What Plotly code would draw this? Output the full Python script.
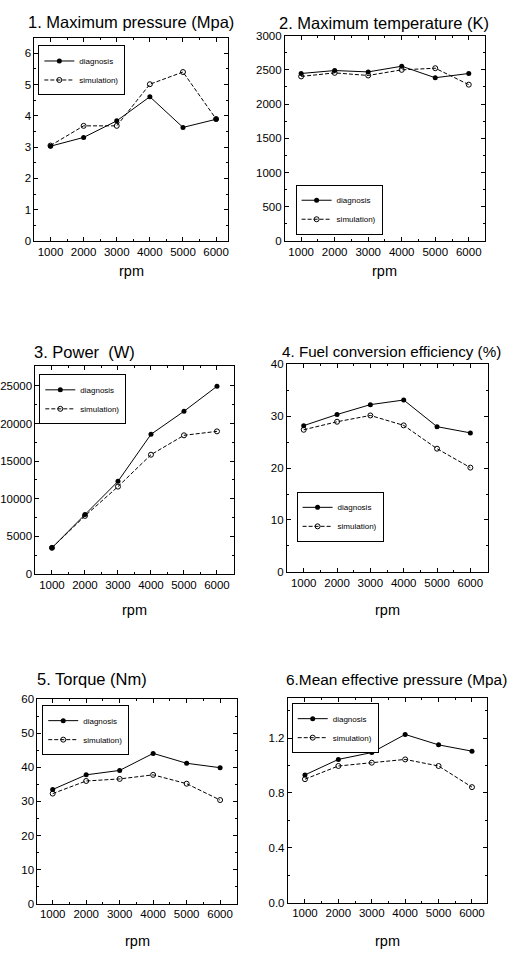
import plotly.graph_objects as go

W, H = 510, 959

rpm = [1000, 2000, 3000, 4000, 5000, 6000]
p_diag = [3.03, 3.31, 3.84, 4.61, 3.63, 3.89]
p_sim = [3.05, 3.68, 3.68, 5.01, 5.40, 3.90]
t_diag = [2447, 2490, 2470, 2553, 2385, 2447]
t_sim = [2404, 2456, 2418, 2500, 2524, 2284]
pow_diag = [3459, 7881, 12303, 18564, 21629, 24956]
pow_sim = [3459, 7706, 11602, 15849, 18433, 18958]
eff_diag = [28.2, 30.35, 32.25, 33.14, 28.0, 26.8]
eff_sim = [27.4, 28.95, 30.16, 28.25, 23.75, 20.1]
tq_diag = [33.5, 37.8, 39.1, 44.1, 41.2, 39.9]
tq_sim = [32.3, 36.0, 36.6, 37.8, 35.2, 30.4]
mep_diag = [0.931, 1.044, 1.094, 1.226, 1.150, 1.104]
mep_sim = [0.90, 0.996, 1.02, 1.044, 0.996, 0.842]

titles = ["1. Maximum pressure (Mpa)", "2. Maximum temperature (K)", "3. Power  (W)",
          "4. Fuel conversion efficiency (%)", "5. Torque (Nm)", "6.Mean effective pressure (Mpa)"]
series = [(p_diag, p_sim), (t_diag, t_sim), (pow_diag, pow_sim),
          (eff_diag, eff_sim), (tq_diag, tq_sim), (mep_diag, mep_sim)]
names = ["diagnosis", "simulation)"]

# panel frames in pixels: left, right, top, bottom
frames = [(22, 221, 32, 238), (279, 484, 30, 238), (23, 227, 365, 575),
          (281, 487, 363, 573), (25, 230, 702, 909), (282, 486, 701, 908)]
xranges = [[515, 6370], [515, 6474], [499, 6522], [494, 6517], [542, 6508], [487, 6438]]
yranges = [[0, 6.5], [0, 3000], [0, 27600], [0, 40], [0, 60], [0, 1.49]]
ydticks = [1, 500, 5000, 10, 10, 0.4]
yminor = [0.5, 250, 2500, 5, 5, 0.2]
yfmt = ["d", "d", "d", "d", "d", ".1f"]
# title (x px, y px) and size
title_pos = [(121, 16), (381, 17), (20, 350), (274, 350), (23, 682), (278, 682)]
title_anchor = ["center", "center", "left", "left", "left", "left"]
title_size = [16.5, 16.5, 16.5, 15.2, 16.5, 15.4]
# legend top-left px
leg_pos = [(26, 40), (290, 181), (27, 373), (291, 492), (30, 708), (286, 706)]
# rpm label y px
rpm_y = [268, 268, 612, 612, 947, 947]

fig = go.Figure()
font = "Liberation Sans, Arial, sans-serif"

for i in range(6):
    ax = "" if i == 0 else str(i + 1)
    l, r, t, b = frames[i]
    leg = "legend" if i == 0 else f"legend{i+1}"
    d, s = series[i]
    fig.add_trace(go.Scatter(x=rpm, y=d, name=names[0], mode="lines+markers",
                             line=dict(color="black", width=1),
                             marker=dict(symbol="circle", size=5, color="black"),
                             xaxis="x" + ax, yaxis="y" + ax, legend=leg))
    fig.add_trace(go.Scatter(x=rpm, y=s, name=names[1], mode="lines+markers",
                             line=dict(color="black", width=1, dash="4px,2px"),
                             marker=dict(symbol="circle-open", size=5, color="black",
                                         line=dict(width=1, color="black")),
                             xaxis="x" + ax, yaxis="y" + ax, legend=leg))
    common = dict(showline=True, linecolor="black", linewidth=1, mirror="ticks",
                  ticks="inside", ticklen=4, tickcolor="black", showgrid=False,
                  zeroline=False, tickfont=dict(family=font, size=11.5, color="black"))
    fig.layout["xaxis" + ax] = dict(domain=[l / W, r / W], range=xranges[i],
                                    anchor="y" + ax, tickvals=rpm,
                                    minor=dict(ticks="inside", ticklen=2, dtick=500,
                                               tick0=0, tickcolor="black"),
                                    **common)
    fig.layout["yaxis" + ax] = dict(domain=[1 - b / H, 1 - t / H], range=yranges[i],
                                    anchor="x" + ax, dtick=ydticks[i], tick0=0,
                                    tickformat=yfmt[i],
                                    minor=dict(ticks="inside", ticklen=2, dtick=yminor[i],
                                               tick0=0, tickcolor="black"),
                                    **common)
    lx, ly = leg_pos[i]
    fig.layout[leg] = dict(x=lx / W, y=1 - ly / H, xanchor="left", yanchor="top",
                           bordercolor="black", borderwidth=1, bgcolor="white",
                           font=dict(family=font, size=8, color="black"),
                           itemwidth=30, tracegroupgap=0)
    tx, ty = title_pos[i]
    fig.add_annotation(text=titles[i], x=tx / W, y=1 - ty / H, xref="paper", yref="paper",
                       xanchor=title_anchor[i], yanchor="middle", showarrow=False,
                       font=dict(family=font, size=title_size[i], color="black"))
    fig.add_annotation(text="rpm", x=(l + r) / 2 / W, y=1 - rpm_y[i] / H,
                       xref="paper", yref="paper", xanchor="center", yanchor="middle",
                       showarrow=False, font=dict(family=font, size=14.5, color="black"))

fig.update_layout(width=W, height=H, margin=dict(l=0, r=0, t=0, b=0),
                  paper_bgcolor="white", plot_bgcolor="white", showlegend=True)

fig.write_html("out.html")
